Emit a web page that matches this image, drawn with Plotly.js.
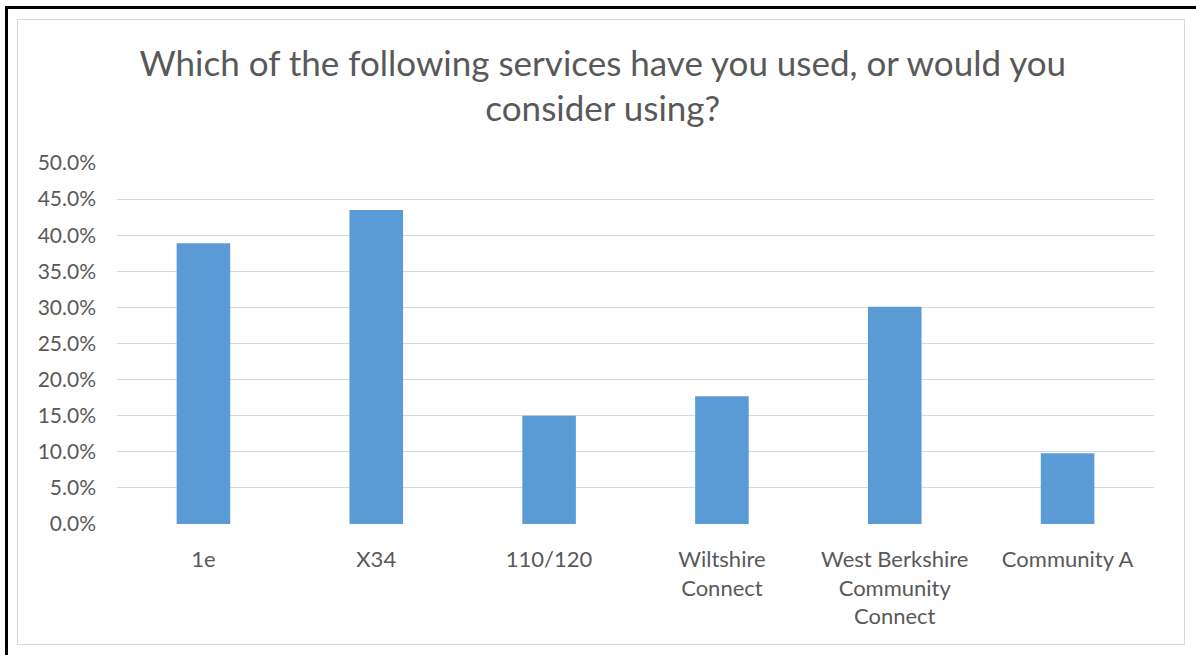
<!DOCTYPE html>
<html><head><meta charset="utf-8">
<script src="https://cdn.plot.ly/plotly-3.0.1.min.js"></script>
<style>
html,body{margin:0;padding:0;background:#fff;width:1196px;height:655px;overflow:hidden;}
#blackTop{position:absolute;left:5px;top:6px;width:1191px;height:3px;background:#000;}
#blackLeft{position:absolute;left:5px;top:6px;width:3px;height:649px;background:#000;}
#frame{position:absolute;left:17px;top:19px;width:1166px;height:624px;border:1px solid #d9d9d9;}
#chart{position:absolute;left:0;top:0;width:1196px;height:655px;}
</style></head>
<body>
<div id="blackTop"></div><div id="blackLeft"></div><div id="frame"></div>
<div id="chart"></div>
<script>
const categories = ["1e", "X34", "110/120", "Wiltshire<br>Connect", "West Berkshire<br>Community<br>Connect", "Community A"];
const values = [0.389, 0.435, 0.150, 0.177, 0.301, 0.098];
const yTickVals = [0, 0.05, 0.10, 0.15, 0.20, 0.25, 0.30, 0.35, 0.40, 0.45, 0.50];
const titleText = "Which of the following services have you used, or would you<br>consider using?";

const font = "Lato, 'Open Sans', sans-serif";
Plotly.newPlot("chart", [{
  type: "bar",
  x: categories,
  y: values,
  marker: {color: "#5b9bd5"},
  hoverinfo: "skip"
}], {
  width: 1196, height: 655,
  paper_bgcolor: "rgba(0,0,0,0)",
  plot_bgcolor: "rgba(0,0,0,0)",
  margin: {l: 117, r: 42, t: 163, b: 131, pad: 0},
  bargap: 0.69,
  title: {text: titleText, x: 0.504, xanchor: "center", y: 0.884, yanchor: "top",
          font: {family: font, size: 35, color: "#595959"}},
  xaxis: {type: "category", showgrid: false, showline: false, zeroline: false, ticks: "",
          ticklabelstandoff: 20,
          tickfont: {family: font, size: 22, color: "#595959"}, fixedrange: true},
  yaxis: {range: [0, 0.5], tickvals: yTickVals, tickformat: ".1%", showgrid: true,
          gridcolor: "#d9d9d9", gridwidth: 1, zeroline: false, showline: false, ticks: "",
          ticklen: 0, ticklabelstandoff: 20,
          tickfont: {family: font, size: 21, color: "#595959"}, fixedrange: true},
  showlegend: false
}, {staticPlot: true, displayModeBar: false});
</script>
</body></html>
